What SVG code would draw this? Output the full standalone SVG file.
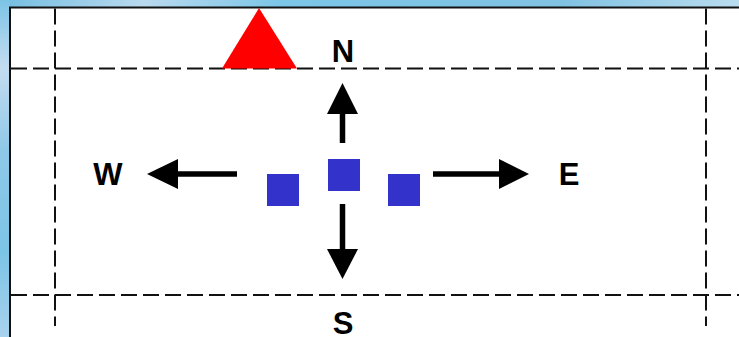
<svg xmlns="http://www.w3.org/2000/svg" width="739" height="337" viewBox="0 0 739 337">
<defs>
<linearGradient id="sky" x1="0" y1="0" x2="1" y2="0.3">
<stop offset="0" stop-color="#72bde0"/>
<stop offset="0.18" stop-color="#b9d9ef"/>
<stop offset="0.35" stop-color="#7cc6e8"/>
<stop offset="0.7" stop-color="#80c2e2"/>
<stop offset="1" stop-color="#cfe6f4"/>
</linearGradient>
<linearGradient id="skyv" x1="0" y1="0" x2="0" y2="1">
<stop offset="0" stop-color="#7cc4e6"/>
<stop offset="0.2" stop-color="#c4dcf0"/>
<stop offset="0.45" stop-color="#8ec8e8"/>
<stop offset="0.75" stop-color="#7cc4e6"/>
<stop offset="1" stop-color="#a8d2ee"/>
</linearGradient>
<style>
.dash{stroke:#111;stroke-width:2;stroke-dasharray:16 6;fill:none}
.border{stroke:#111;stroke-width:2;fill:none}
.shaft{stroke:#000;stroke-width:5.5;fill:none}
.head{fill:#000}
.sq{fill:#3333cc}
.lbl{font-family:"Liberation Sans",Arial,sans-serif;font-weight:bold;font-size:31px;fill:#000;text-anchor:middle}
</style>
</defs>
<rect x="0" y="0" width="739" height="337" fill="url(#sky)"/>
<rect x="0" y="0" width="10" height="337" fill="url(#skyv)"/>
<rect x="10" y="7.5" width="729" height="329.5" fill="#fff"/>
<path class="border" d="M10,337 V7.5 H739"/>
<g id="grid">
<path class="dash" d="M11,68.5 H739"/>
<path class="dash" d="M11,295 H739"/>
<path class="dash" d="M55,8.5 V326"/>
<path class="dash" d="M706,8.5 V326"/>
</g>
<g id="marker-triangle">
<polygon points="259,8 222,68.5 297,68.5" fill="#ff0000"/>
</g>
<g id="squares">
<rect id="sq-left" class="sq" x="267" y="174" width="32" height="32"/>
<rect id="sq-center" class="sq" x="328" y="159" width="32" height="32"/>
<rect id="sq-right" class="sq" x="388" y="174" width="32" height="32"/>
</g>
<g id="connectors">
<g id="arrow-n">
<line class="shaft" x1="342.5" y1="143" x2="342.5" y2="112"/>
<polygon class="head" points="342.5,83 327,114 358,114"/>
</g>
<g id="arrow-s">
<line class="shaft" x1="342.5" y1="204" x2="342.5" y2="251"/>
<polygon class="head" points="342.5,279 327,249 358,249"/>
</g>
<g id="arrow-w">
<line class="shaft" x1="237" y1="174" x2="176" y2="174"/>
<polygon class="head" points="147,174 178,159 178,189"/>
</g>
<g id="arrow-e">
<line class="shaft" x1="433" y1="174" x2="501" y2="174"/>
<polygon class="head" points="529,174 499,159 499,189"/>
</g>
</g>
<g id="labels">
<text id="label-n" class="lbl" x="343" y="62">N</text>
<text id="label-w" class="lbl" x="108" y="185">W</text>
<text id="label-e" class="lbl" x="569" y="185">E</text>
<text id="label-s" class="lbl" x="343" y="334">S</text>
</g>
</svg>
